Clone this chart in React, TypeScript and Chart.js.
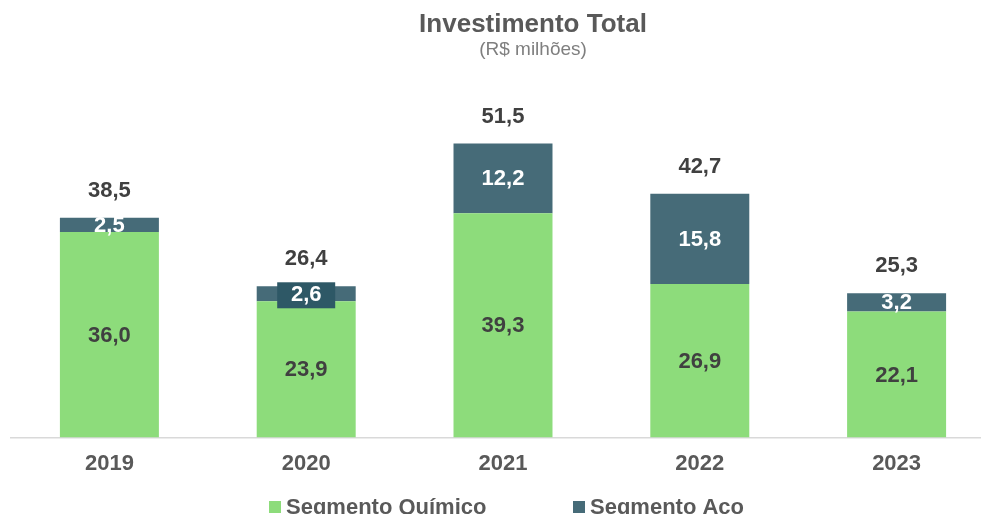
import React, { useEffect, useRef } from "react";
import { Chart, registerables } from "chart.js";

Chart.register(...registerables);

const years = ["2019", "2020", "2021", "2022", "2023"];
const quimico = [36.0, 23.9, 39.3, 26.9, 22.1];
const aco = [2.5, 2.6, 12.2, 15.8, 3.2];
const totals = [38.5, 26.4, 51.5, 42.7, 25.3];

const GREEN = "#8DDC7B";
const TEAL = "#466B78";
const FONT = "Arial, 'Liberation Sans', sans-serif";

const fmt = (v: number) => v.toFixed(1).replace(".", ",");

const labelsPlugin = {
  id: "customLabels",
  afterDatasetsDraw(chart: any) {
    const ctx = chart.ctx;
    ctx.save();
    ctx.textAlign = "center";
    ctx.textBaseline = "middle";
    ctx.font = `bold 22px ${FONT}`;
    // segment labels
    chart.data.datasets.forEach((ds: any, di: number) => {
      const meta = chart.getDatasetMeta(di);
      meta.data.forEach((el: any, i: number) => {
        const v = ds.data[i];
        const cy = (el.y + el.base) / 2;
        if (di === 1 && i === 1) {
          ctx.fillStyle = "#2E5866";
          ctx.fillRect(el.x - 29, el.y - 4, 58, 26);
        }
        ctx.fillStyle = di === 0 ? "#404040" : "#FFFFFF";
        ctx.fillText(fmt(v), el.x, cy + 1);
      });
    });
    // totals
    const topMeta = chart.getDatasetMeta(chart.data.datasets.length - 1);
    ctx.fillStyle = "#404040";
    topMeta.data.forEach((el: any, i: number) => {
      ctx.fillText(fmt(totals[i]), el.x, el.y - 27);
    });
    ctx.restore();
  },
  afterDraw(chart: any) {
    const ctx = chart.ctx;
    ctx.save();
    ctx.textAlign = "center";
    ctx.textBaseline = "middle";
    ctx.fillStyle = "#595959";
    ctx.font = `bold 26px ${FONT}`;
    ctx.fillText("Investimento Total", 533, 25);
    ctx.fillStyle = "#7F7F7F";
    ctx.font = `19px ${FONT}`;
    ctx.fillText("(R$ milhões)", 533, 50);
    // legend
    ctx.textAlign = "left";
    ctx.font = `bold 22px ${FONT}`;
    const items = [
      { x: 269, color: GREEN, label: chart.data.datasets[0].label },
      { x: 573, color: TEAL, label: chart.data.datasets[1].label },
    ];
    items.forEach((it) => {
      ctx.fillStyle = it.color;
      ctx.fillRect(it.x, 501, 12, 12);
      ctx.fillStyle = "#595959";
      ctx.fillText(it.label, it.x + 17, 508);
    });
    ctx.restore();
  },
};

export default function App() {
  const ref = useRef<HTMLCanvasElement | null>(null);
  useEffect(() => {
    document.body.style.margin = "0";
    document.body.style.overflow = "hidden";
    const canvas = ref.current!;
    const chart = new Chart(canvas, {
      type: "bar",
      data: {
        labels: years,
        datasets: [
          { label: "Segmento Químico", data: quimico, backgroundColor: GREEN },
          { label: "Segmento Aço", data: aco, backgroundColor: TEAL },
        ],
      },
      options: {
        responsive: false,
        animation: false,
        devicePixelRatio: 1,
        layout: { padding: { left: 11, right: 1, top: 95, bottom: 24 } },
        datasets: { bar: { categoryPercentage: 1, barPercentage: 0.503 } },
        plugins: {
          legend: { display: false },
          title: { display: false },
          tooltip: { enabled: false },
        },
        scales: {
          x: {
            stacked: true,
            grid: { display: false, drawTicks: false },
            border: { display: true, color: "#D9D9D9", width: 1.5 },
            ticks: {
              color: "#595959",
              font: { family: FONT, size: 22, weight: "bold" },
              padding: 13,
            },
          },
          y: {
            stacked: true,
            display: false,
            min: 0,
            max: 60,
          },
        },
      },
      plugins: [labelsPlugin],
    });
    return () => chart.destroy();
  }, []);
  return (
    <canvas
      ref={ref}
      width={996}
      height={514}
      style={{ display: "block", width: 996, height: 514 }}
    />
  );
}
